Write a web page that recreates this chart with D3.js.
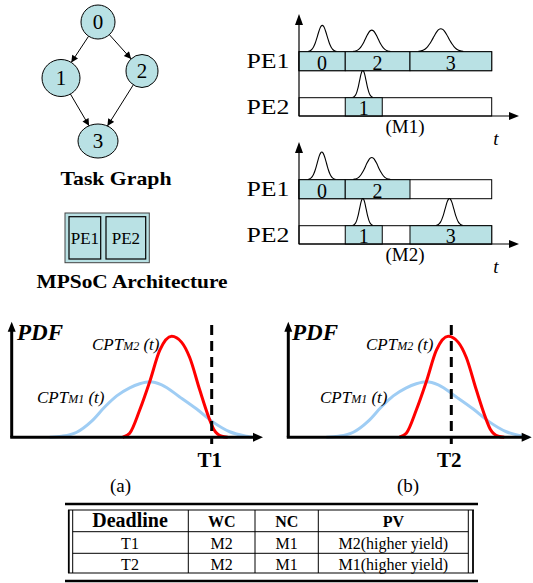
<!DOCTYPE html>
<html><head><meta charset="utf-8">
<script src="https://cdn.jsdelivr.net/npm/d3@7"></script>
<style>body{margin:0;background:#fff}svg{display:block}text{font-family:"Liberation Serif","Times New Roman",serif;fill:#000}</style>
</head><body>
<svg id="c" width="533" height="583"></svg>
<script>
// ---------------- DATA ----------------
const tasks = ["0", "1", "2", "3"];
const edges = [[0, 1], [0, 2], [1, 3], [2, 3]];
const peNames = ["PE1", "PE2"];
const mappingNames = ["(M1)", "(M2)"];
const scheduleM1 = [
  {task: 0, pe: 0, start: 0, end: 3},
  {task: 2, pe: 0, start: 3, end: 7.2},
  {task: 3, pe: 0, start: 7.2, end: 12.5},
  {task: 1, pe: 1, start: 3, end: 5.4}
];
const scheduleM2 = [
  {task: 0, pe: 0, start: 0, end: 3},
  {task: 2, pe: 0, start: 3, end: 7.2},
  {task: 1, pe: 1, start: 3, end: 5.4},
  {task: 3, pe: 1, start: 7.2, end: 12.5}
];
const bellsM1 = [
  {task: 0, pe: 0, mean: 1.51, spread: 0.91, peak: 0.95},
  {task: 2, pe: 0, mean: 4.72, spread: 1.2, peak: 0.78},
  {task: 3, pe: 0, mean: 9.2, spread: 1.46, peak: 0.83},
  {task: 1, pe: 1, mean: 4.14, spread: 0.65, peak: 0.98}
];
const bellsM2 = [
  {task: 0, pe: 0, mean: 1.48, spread: 0.88, peak: 1.0},
  {task: 2, pe: 0, mean: 4.72, spread: 1.2, peak: 0.8},
  {task: 1, pe: 1, mean: 4.14, spread: 0.65, peak: 0.98},
  {task: 3, pe: 1, mean: 9.76, spread: 0.86, peak: 0.98}
];
const scheduleEnd = 12.5;
// completion-time PDFs [t, pdf]
const cptM1 = [[1.52,0],[2.0,0.01],[2.6,0.05],[3.2,0.16],[3.72,0.30],[4.2,0.41],[4.72,0.49],[5.12,0.53],[5.52,0.55],[6.0,0.52],[6.72,0.40],[7.4,0.28],[8.0,0.16],[8.72,0.055],[9.4,0.01],[9.64,0]];
const cptM2 = [[4.44,0],[4.72,0.04],[5.12,0.27],[5.52,0.55],[5.92,0.86],[6.4,1.0],[6.8,0.94],[7.12,0.79],[7.52,0.47],[7.88,0.2],[8.08,0.08],[8.4,0.01],[8.64,0]];
const deadlines = [{label: "T1", t: 8.0}, {label: "T2", t: 6.52}];
const panelLabels = ["(a)", "(b)"];
const tableHeader = ["Deadline", "WC", "NC", "PV"];
const tableRows = [
  ["T1", "M2", "M1", "M2(higher yield)"],
  ["T2", "M2", "M1", "M1(higher yield)"]
];

// ---------------- DRAW ----------------
const svg = d3.select("#c");
const CYAN = "#b9e1e4";
const defs = svg.append("defs");
defs.append("marker").attr("id", "ah").attr("viewBox", "0 0 10 10").attr("refX", 10).attr("refY", 5)
  .attr("markerWidth", 9).attr("markerHeight", 7).attr("markerUnits", "userSpaceOnUse").attr("orient", "auto")
  .append("path").attr("d", "M0,0L10,5L0,10z").attr("fill", "#000");

// Task graph
const nodeLayout = [
  {cx: 98, cy: 22, rx: 17, ry: 17},
  {cx: 61, cy: 78, rx: 19, ry: 18.5},
  {cx: 142, cy: 71, rx: 16, ry: 16.5},
  {cx: 98, cy: 141, rx: 20, ry: 17}
];
function boundary(n, dx, dy) {
  const k = 1 / Math.sqrt((dx / n.rx) ** 2 + (dy / n.ry) ** 2);
  return [n.cx + dx * k, n.cy + dy * k];
}
const gTG = svg.append("g");
gTG.selectAll("line.edge").data(edges).join("line")
  .each(function(e) {
    const a = nodeLayout[e[0]], b = nodeLayout[e[1]];
    const dx = b.cx - a.cx, dy = b.cy - a.cy;
    const p = boundary(a, dx, dy), q = boundary(b, -dx, -dy);
    d3.select(this).attr("x1", p[0]).attr("y1", p[1]).attr("x2", q[0]).attr("y2", q[1]);
  })
  .attr("stroke", "#000").attr("stroke-width", 1).attr("marker-end", "url(#ah)");
gTG.selectAll("ellipse").data(tasks).join("ellipse")
  .attr("cx", (d, i) => nodeLayout[i].cx).attr("cy", (d, i) => nodeLayout[i].cy)
  .attr("rx", (d, i) => nodeLayout[i].rx).attr("ry", (d, i) => nodeLayout[i].ry)
  .attr("fill", CYAN).attr("stroke", "#000").attr("stroke-width", 1);
gTG.selectAll("text.n").data(tasks).join("text")
  .attr("x", (d, i) => nodeLayout[i].cx).attr("y", (d, i) => nodeLayout[i].cy + 7)
  .attr("text-anchor", "middle").attr("font-size", 21).text(d => d);
svg.append("text").attr("x", 116).attr("y", 185).attr("text-anchor", "middle")
  .attr("font-size", 19).attr("font-weight", "bold").attr("textLength", 111).attr("lengthAdjust", "spacingAndGlyphs").text("Task Graph");

// MPSoC
svg.append("rect").attr("x", 65).attr("y", 213).attr("width", 84.3).attr("height", 49.7)
  .attr("fill", CYAN).attr("stroke", "#444").attr("stroke-width", 1);
const peBox = [{x: 69, w: 31.7}, {x: 106, w: 39.7}];
svg.selectAll("rect.pe").data(peNames).join("rect")
  .attr("x", (d, i) => peBox[i].x).attr("y", 216.7).attr("width", (d, i) => peBox[i].w).attr("height", 42.3)
  .attr("fill", CYAN).attr("stroke", "#000").attr("stroke-width", 1.2);
svg.selectAll("text.pe").data(peNames).join("text")
  .attr("x", (d, i) => peBox[i].x + peBox[i].w / 2).attr("y", 243.5).attr("text-anchor", "middle")
  .attr("font-size", 17).text(d => d);
svg.append("text").attr("x", 132).attr("y", 288).attr("text-anchor", "middle")
  .attr("font-size", 19).attr("font-weight", "bold").attr("textLength", 191).attr("lengthAdjust", "spacingAndGlyphs").text("MPSoC Architecture");

// Gantt charts
const tScale = d3.scaleLinear().domain([0, scheduleEnd]).range([299, 491.7]);
const bellScale = d3.scaleLinear().domain([0, 1]).range([0, 28]);
function gantt(sched, bells, name, off) {
  const g = svg.append("g").attr("transform", `translate(0,${off})`);
  const rowTop = [51.7, 97.7], rowH = [19, 18.3];
  const axisY = 116;
  g.selectAll("rect.row").data(peNames).join("rect")
    .attr("x", tScale(0)).attr("y", (d, i) => rowTop[i]).attr("width", tScale(scheduleEnd) - tScale(0)).attr("height", (d, i) => rowH[i])
    .attr("fill", "#fff").attr("stroke", "#000").attr("stroke-width", 1);
  g.selectAll("rect.task").data(sched).join("rect")
    .attr("x", d => tScale(d.start)).attr("y", d => rowTop[d.pe]).attr("width", d => tScale(d.end) - tScale(d.start)).attr("height", d => rowH[d.pe])
    .attr("fill", CYAN).attr("stroke", "#000").attr("stroke-width", 1);
  g.selectAll("text.task").data(sched).join("text")
    .attr("x", d => (tScale(d.start) + tScale(d.end)) / 2).attr("y", d => rowTop[d.pe] + rowH[d.pe] - 1)
    .attr("text-anchor", "middle").attr("font-size", 20).text(d => tasks[d.task]);
  const line = d3.line().curve(d3.curveBasis);
  g.selectAll("path.bell").data(bells).join("path")
    .attr("d", b => {
      const sig = b.spread / 3, pts = [];
      for (let k = -12; k <= 12; k++) {
        const t = b.mean + b.spread * k / 12;
        const v = b.peak * Math.exp(-((t - b.mean) ** 2) / (2 * sig * sig));
        pts.push([tScale(t), rowTop[b.pe] - bellScale(v)]);
      }
      return line(pts);
    })
    .attr("fill", "none").attr("stroke", "#000").attr("stroke-width", 1.1);
  g.append("line").attr("x1", 299).attr("y1", axisY).attr("x2", 299).attr("y2", 24).attr("stroke", "#000").attr("stroke-width", 1.2);
  g.append("path").attr("d", "M299,14L303,25L295,25z").attr("fill", "#000");
  g.append("line").attr("x1", 299).attr("y1", axisY).attr("x2", 510).attr("y2", axisY).attr("stroke", "#000").attr("stroke-width", 1.2);
  g.append("path").attr(`d`, `M519,${axisY}L509,${axisY - 4}L509,${axisY + 4}z`).attr("fill", "#000");
  g.selectAll("text.pel").data(peNames).join("text")
    .attr("x", 268).attr("y", (d, i) => rowTop[i] + 16).attr("text-anchor", "middle")
    .attr("font-size", 20).attr("textLength", 43).attr("lengthAdjust", "spacingAndGlyphs").text(d => d);
  g.append("text").attr("x", 405).attr("y", 133).attr("text-anchor", "middle").attr("font-size", 19).text(name);
  g.append("text").attr("x", 496).attr("y", 145).attr("text-anchor", "middle").attr("font-size", 19).attr("font-style", "italic").text("t");
}
gantt(scheduleM1, bellsM1, mappingNames[0], 0);
gantt(scheduleM2, bellsM2, mappingNames[1], 128);

// PDF panels
const panels = [
  {x0: 11.7, end: 263, m2lab: 92, m1lab: 37, pdfX: 17, labX: 120.5},
  {x0: 288.3, end: 531.7, m2lab: 366, m1lab: 320, pdfX: 292, labX: 408}
];
const yBase = 437.3, yTop = 321.7;
const yS = d3.scaleLinear().domain([0, 1]).range([yBase, yBase - 101]);
panels.forEach((p, i) => {
  const g = svg.append("g");
  const xS = d3.scaleLinear().domain([0, 10]).range([p.x0, p.x0 + 250]);
  const ln = d3.line().x(d => xS(d[0])).y(d => yS(d[1])).curve(d3.curveMonotoneX);
  g.append("path").attr("d", ln(cptM1)).attr("fill", "none").attr("stroke", "#9fcdf4").attr("stroke-width", 3);
  g.append("path").attr("d", ln(cptM2)).attr("fill", "none").attr("stroke", "#ff0000").attr("stroke-width", 3);
  g.append("line").attr("x1", p.x0).attr("y1", yBase).attr("x2", p.x0).attr("y2", yTop + 8).attr("stroke", "#000").attr("stroke-width", 3);
  g.append("path").attr("d", `M${p.x0},${yTop}L${p.x0 + 4},${yTop + 10}L${p.x0 - 4},${yTop + 10}z`).attr("fill", "#000");
  g.append("line").attr("x1", p.x0 - 1.5).attr("y1", yBase).attr("x2", p.end - 8).attr("y2", yBase).attr("stroke", "#000").attr("stroke-width", 3);
  g.append("path").attr("d", `M${p.end},${yBase}L${p.end - 10},${yBase - 4.5}L${p.end - 10},${yBase + 4.5}z`).attr("fill", "#000");
  const dl = deadlines[i];
  g.append("line").attr("x1", xS(dl.t)).attr("x2", xS(dl.t)).attr("y1", 325).attr("y2", 444)
    .attr("stroke", "#000").attr("stroke-width", 3).attr("stroke-dasharray", "10,6");
  g.append("text").attr("x", xS(dl.t) - 2).attr("y", 467).attr("text-anchor", "middle")
    .attr("font-size", 21).attr("font-weight", "bold").text(dl.label);
  g.append("text").attr("x", p.pdfX).attr("y", 340).attr("font-size", 23).attr("font-weight", "bold").attr("font-style", "italic").text("PDF");
  function cpt(x, y, sub) {
    const t = g.append("text").attr("x", x).attr("y", y).attr("font-size", 17).attr("font-style", "italic");
    t.append("tspan").text("CPT");
    t.append("tspan").attr("font-size", 12).text(sub);
    t.append("tspan").text(" (t)");
  }
  cpt(p.m2lab, 350, "M2");
  cpt(p.m1lab, 403, "M1");
  g.append("text").attr("x", p.labX).attr("y", 491.5).attr("text-anchor", "middle").attr("font-size", 19).text(panelLabels[i]);
});

// Table
const gT = svg.append("g");
const colX = [72.7, 188.3, 255, 318.3, 468.3];
const rowY = [510, 531.7, 553.3, 573];
gT.append("line").attr("x1", 65).attr("x2", 478).attr("y1", 504).attr("y2", 504).attr("stroke", "#000").attr("stroke-width", 2.5);
gT.append("line").attr("x1", 65).attr("x2", 478).attr("y1", 581).attr("y2", 581).attr("stroke", "#000").attr("stroke-width", 2.5);
gT.append("line").attr("x1", 68).attr("x2", 474).attr("y1", rowY[0]).attr("y2", rowY[0]).attr("stroke", "#000").attr("stroke-width", 1.2);
gT.append("line").attr("x1", 68).attr("x2", 474).attr("y1", rowY[3]).attr("y2", rowY[3]).attr("stroke", "#000").attr("stroke-width", 1.2);
[rowY[1], rowY[2]].forEach(y => gT.append("line").attr("x1", 72.7).attr("x2", 468.3).attr("y1", y).attr("y2", y).attr("stroke", "#000").attr("stroke-width", 1));
[68.8, 72.7, 468.3, 473].forEach((x, i) => gT.append("line").attr("x1", x).attr("x2", x).attr("y1", rowY[0]).attr("y2", rowY[3]).attr("stroke", "#000").attr("stroke-width", i === 0 || i === 3 ? 1.8 : 1));
colX.slice(1, 4).forEach(x => gT.append("line").attr("x1", x).attr("x2", x).attr("y1", rowY[0]).attr("y2", rowY[3]).attr("stroke", "#000").attr("stroke-width", 1));
const colC = [130, 221.7, 286.7, 393.3];
gT.selectAll("text.h").data(tableHeader).join("text")
  .attr("x", (d, i) => colC[i]).attr("y", 527).attr("text-anchor", "middle")
  .attr("font-weight", "bold").attr("font-size", (d, i) => i === 0 ? 20 : 16).text(d => d);
tableRows.forEach((r, ri) => {
  gT.selectAll(`text.r${ri}`).data(r).join("text")
    .attr("x", (d, i) => colC[i]).attr("y", ri === 0 ? 548.5 : 569.5).attr("text-anchor", "middle")
    .attr("font-size", 16).text(d => d);
});
</script>
</body></html>
